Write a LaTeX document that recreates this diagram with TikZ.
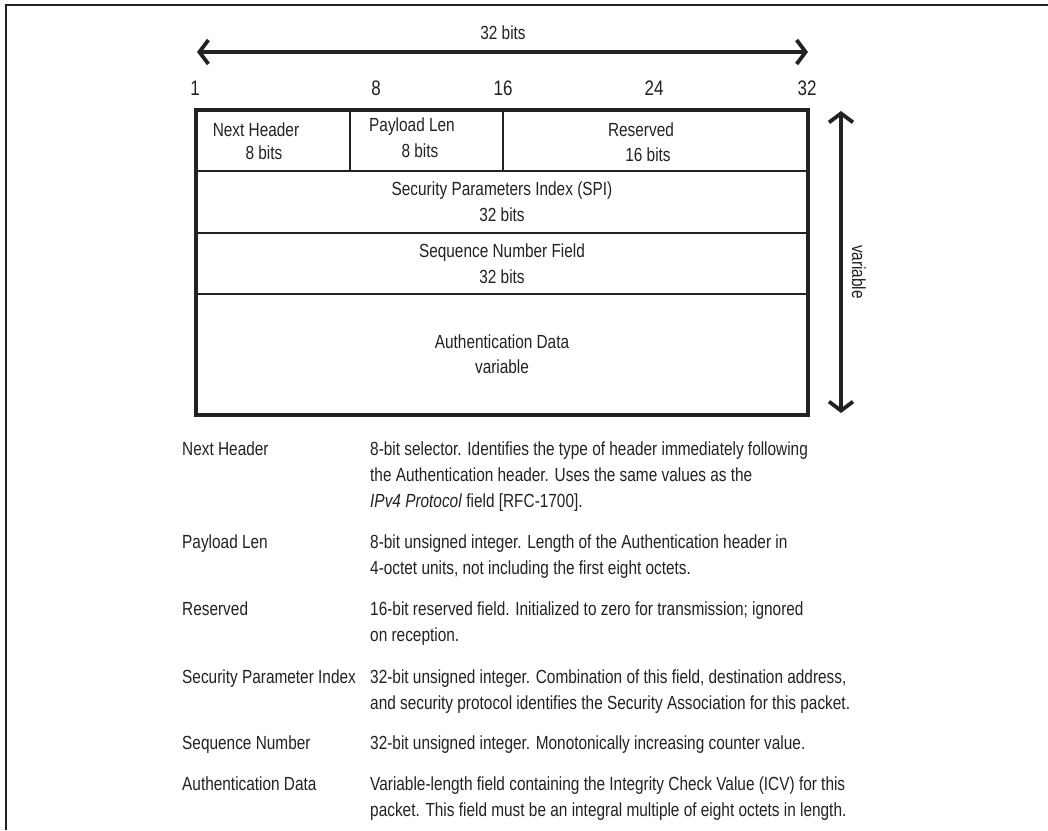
\documentclass[tikz,border=0pt]{standalone}
\usepackage{fontspec}
\setmainfont{Liberation Sans}[FakeStretch=0.81]
\usetikzlibrary{arrows.meta}
\definecolor{ink}{RGB}{34,34,34}
\begin{document}
\begin{tikzpicture}[x=1pt,y=-1pt,
  txt/.style={font=\fontsize{19}{22}\selectfont, text=ink, inner sep=0pt},
  tick/.style={font=\fontsize{21}{24}\selectfont, text=ink, inner sep=0pt},
  line/.style={txt, anchor=base west},
  outline/.style={draw=ink, line width=4pt},
  cellrule/.style={draw=ink, line width=1.6pt},
  dimarrow/.style={draw=ink, line width=3.8pt, {Straight Barb[length=9pt,width=24pt]}-{Straight Barb[length=9pt,width=24pt]}},
  framerule/.style={draw=ink, line width=2pt}]
\useasboundingbox (0,0) rectangle (1048,830);

% page frame
\draw[framerule] (6,830) -- (6,5) -- (1048,5);

% bit ruler
\coordinate (rulerL) at (197,52);
\coordinate (rulerR) at (808,52);
\draw[dimarrow] (rulerL) -- (rulerR);
\node[txt] (width) at (503,33) {32 bits};
\node[tick] (b1)  at (195,88) {1};
\node[tick] (b8)  at (376,88) {8};
\node[tick] (b16) at (503,88) {16};
\node[tick] (b24) at (654,88) {24};
\node[tick] (b32) at (807,88) {32};

% header layout
\coordinate (nw) at (196,110);
\coordinate (se) at (808,415);
\draw[cellrule] (196,171) -- (808,171);
\draw[cellrule] (196,233) -- (808,233);
\draw[cellrule] (196,294) -- (808,294);
\draw[cellrule] (350,110) -- (350,171);
\draw[cellrule] (503,110) -- (503,171);
\draw[outline] (nw) rectangle (se);

\node[txt] (nh)   at (256,130) {Next Header};
\node[txt] (nhb)  at (264,153) {8 bits};
\node[txt] (pl)   at (412,127) {Payload Len};
\node[txt] (plb)  at (420,151) {8 bits};
\node[txt] (rs)   at (641,130) {Reserved};
\node[txt] (rsb)  at (648,155) {16 bits};
\node[txt] (spi)  at (502,191) {Security Parameters Index (SPI)};
\node[txt] (spib) at (502,215) {32 bits};
\node[txt] (sn)   at (502,253) {Sequence Number Field};
\node[txt] (snb)  at (502,277) {32 bits};
\node[txt] (ad)   at (502,342) {Authentication Data};
\node[txt] (adb)  at (502,367) {variable};

% length of the header
\coordinate (lenT) at (841,111);
\coordinate (lenB) at (841,413);
\draw[dimarrow] (lenB) -- (lenT);
\node[txt, rotate=-90] (len) at (859,272) {variable};

% field descriptions
\node[line] (k1) at (182,455) {Next Header};
\node[line] (v1a) at (370,455) {8-bit selector. Identifies the type of header immediately following};
\node[line] (v1b) at (370,481) {the Authentication header. Uses the same values as the};
\node[line] (v1c) at (370,507) {\textit{IPv4 Protocol} field [RFC-1700].};

\node[line] (k2) at (182,548) {Payload Len};
\node[line] (v2a) at (370,548) {8-bit unsigned integer. Length of the Authentication header in};
\node[line] (v2b) at (370,574) {4-octet units, not including the first eight octets.};

\node[line] (k3) at (182,615) {Reserved};
\node[line] (v3a) at (370,615) {16-bit reserved field. Initialized to zero for transmission; ignored};
\node[line] (v3b) at (370,641) {on reception.};

\node[line] (k4) at (182,683) {Security Parameter Index};
\node[line] (v4a) at (370,683) {32-bit unsigned integer. Combination of this field, destination address,};
\node[line] (v4b) at (370,709) {and security protocol identifies the Security Association for this packet.};

\node[line] (k5) at (182,749) {Sequence Number};
\node[line] (v5a) at (370,749) {32-bit unsigned integer. Monotonically increasing counter value.};

\node[line] (k6) at (182,790) {Authentication Data};
\node[line] (v6a) at (370,790) {Variable-length field containing the Integrity Check Value (ICV) for this};
\node[line] (v6b) at (370,816) {packet. This field must be an integral multiple of eight octets in length.};
\end{tikzpicture}
\end{document}
